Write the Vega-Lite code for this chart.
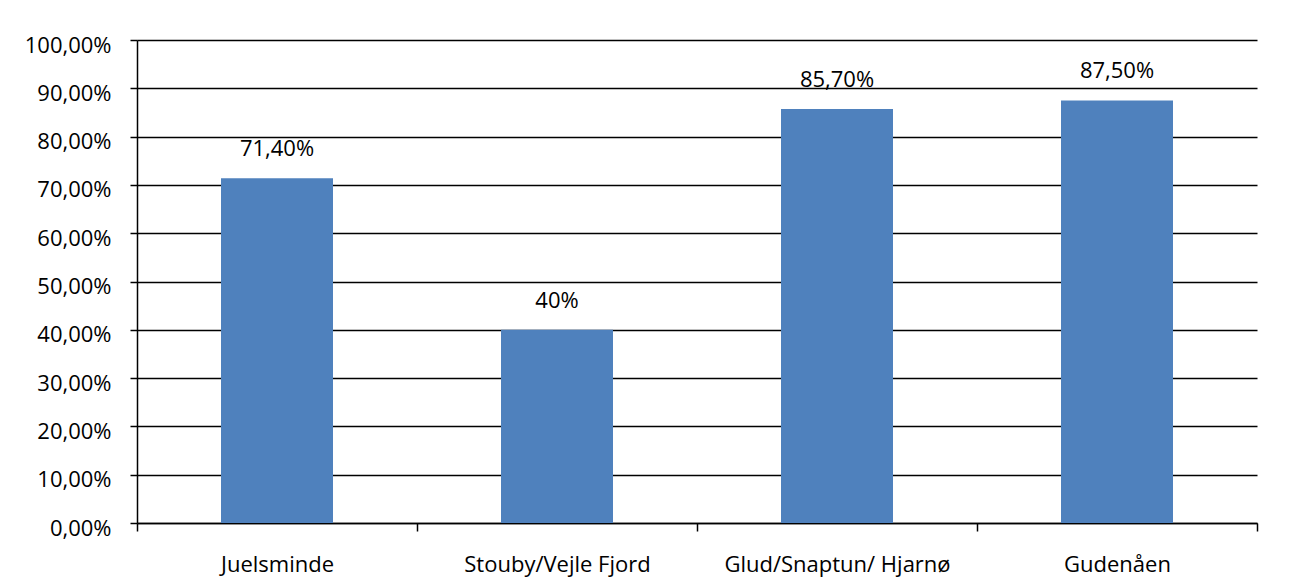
{
  "$schema": "https://vega.github.io/schema/vega-lite/v6.json",
  "autosize": {"type": "none"},
  "padding": {"left": 137, "top": 40, "right": 33, "bottom": 57},
  "width": 1120,
  "height": 483,
  "background": "white",
  "data": {
    "values": [
      {"site": "Juelsminde", "share": 0.714, "label": "71,40%"},
      {"site": "Stouby/Vejle Fjord", "share": 0.40, "label": "40%"},
      {"site": "Glud/Snaptun/ Hjarnø", "share": 0.857, "label": "85,70%"},
      {"site": "Gudenåen", "share": 0.875, "label": "87,50%"}
    ]
  },
  "encoding": {
    "x": {
      "field": "site",
      "type": "nominal",
      "sort": null,
      "title": null,
      "scale": {"paddingInner": 0, "paddingOuter": 0},
      "axis": {
        "labelAngle": 0,
        "tickBand": "extent",
        "tickSize": 8,
        "tickColor": "black",
        "tickWidth": 1.5,
        "domainColor": "black",
        "domainWidth": 1.5,
        "labelPadding": 23,
        "labelLimit": 0,
        "labelFont": "Open Sans",
        "labelFontSize": 22,
        "labelColor": "black",
        "labelBaseline": "top"
      }
    },
    "y": {
      "field": "share",
      "type": "quantitative",
      "title": null,
      "scale": {"domain": [0, 1], "nice": false},
      "axis": {
        "values": [0, 0.1, 0.2, 0.3, 0.4, 0.5, 0.6, 0.7, 0.8, 0.9, 1],
        "labelExpr": "replace(format(datum.value, '.2%'), '.', ',')",
        "grid": true,
        "gridColor": "black",
        "gridWidth": 1.5,
        "gridOpacity": 1,
        "tickSize": 7,
        "tickColor": "black",
        "tickWidth": 1.5,
        "domainColor": "black",
        "domainWidth": 1.5,
        "labelPadding": 19,
        "labelOffset": 5,
        "labelFont": "Open Sans",
        "labelFontSize": 22,
        "labelColor": "black"
      }
    }
  },
  "layer": [
    {"mark": {"type": "bar", "color": "#4F81BD", "width": {"band": 0.4}}},
    {
      "mark": {"type": "text", "baseline": "alphabetic", "dy": -22, "font": "Open Sans", "fontSize": 22, "color": "black"},
      "encoding": {"text": {"field": "label"}}
    }
  ],
  "config": {"view": {"stroke": null}}
}
